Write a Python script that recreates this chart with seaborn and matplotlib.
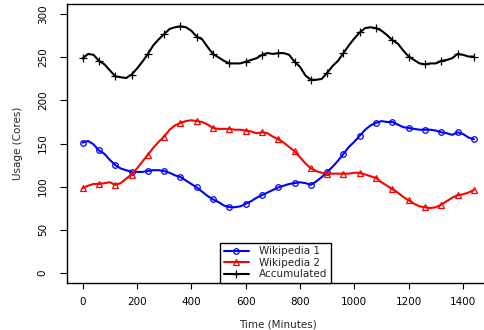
import numpy as np
import pandas as pd
import matplotlib
matplotlib.use("Agg")
import matplotlib.pyplot as plt
import seaborn as sns

# ---- data (20-minute steps) ----
time_min = list(range(0, 1441, 20))

wiki1 = [151, 153, 149, 142, 138, 131, 125, 121, 119, 117, 117, 117, 118, 119, 119,
         118, 116, 113, 111, 107, 103, 99, 94, 89, 85, 82, 78, 76, 76, 77,
         80, 83, 87, 90, 93, 96, 99, 101, 103, 104, 105, 104, 102, 106, 111,
         117, 123, 130, 138, 146, 152, 159, 166, 171, 174, 176, 175, 175, 172, 169,
         168, 167, 166, 166, 166, 165, 163, 162, 160, 163, 161, 157, 155]

wiki2 = [98, 101, 103, 103, 104, 105, 102, 104, 109, 114, 121, 129, 137, 145, 152,
         158, 166, 171, 174, 176, 177, 176, 175, 172, 168, 167, 167, 167, 166, 166,
         165, 164, 162, 163, 162, 158, 155, 151, 146, 141, 134, 127, 121, 118, 116,
         115, 115, 115, 115, 115, 116, 116, 114, 112, 110, 105, 101, 97, 93, 88,
         84, 80, 77, 76, 75, 76, 79, 83, 87, 90, 91, 93, 96]

accumulated = [249, 254, 253, 246, 242, 235, 228, 227, 226, 230, 237, 245, 254, 264, 271,
               277, 283, 285, 286, 285, 281, 274, 271, 262, 254, 250, 246, 243, 243, 243,
               245, 247, 249, 253, 255, 254, 255, 255, 253, 245, 239, 229, 224, 224, 225,
               232, 240, 246, 255, 264, 272, 279, 284, 285, 284, 281, 276, 270, 266, 258,
               251, 247, 243, 242, 243, 243, 246, 247, 249, 254, 253, 251, 251]

series_names = ["Wikipedia 1", "Wikipedia 2", "Accumulated"]
x_ticks = [0, 200, 400, 600, 800, 1000, 1200, 1400]
y_ticks = [0, 50, 100, 150, 200, 250, 300]

df = pd.DataFrame({"t": time_min, "Wikipedia 1": wiki1,
                   "Wikipedia 2": wiki2, "Accumulated": accumulated})

sns.set_style("ticks")
plt.rcParams["font.family"] = ["DejaVu Sans"]
plt.rcParams["font.size"] = 7.5

W, H = 485, 330
fig = plt.figure(figsize=(W / 100, H / 100), dpi=100)
ax = fig.add_axes([67 / W, 47 / H, (489.5 - 67) / W, (283 - 4) / H])

styles = {
    "Wikipedia 1": dict(color="#0000ff", marker="o", ms=4.0),
    "Wikipedia 2": dict(color="#ff0000", marker="^", ms=4.5),
    "Accumulated": dict(color="black", marker="+", ms=5.5),
}
for name in series_names:
    st = styles[name]
    sns.lineplot(data=df, x="t", y=name, ax=ax, label=name, lw=1.5,
                 color=st["color"], marker=st["marker"], markersize=st["ms"],
                 markevery=3, markerfacecolor="none",
                 markeredgecolor=st["color"], markeredgewidth=0.9,
                 dashes=False, linestyle="-")

ax.set_xlim(-57.6, 1497.6)
ax.set_ylim(-12, 312)
ax.set_xticks(x_ticks)
ax.set_yticks(y_ticks)
ax.set_xticklabels([str(v) for v in x_ticks])
ax.set_yticklabels([str(v) for v in y_ticks], rotation=90, va="center")
ax.tick_params(axis="x", direction="out", length=4.3, width=0.8, pad=5.5,
               colors="black", labelsize=7.5)
ax.tick_params(axis="y", direction="out", length=4.8, width=0.8, pad=9,
               colors="black", labelsize=7.5)
for s in ax.spines.values():
    s.set_visible(True)
    s.set_linewidth(1.0)
    s.set_color("black")

ax.set_xlabel("Time (Minutes)", fontsize=7.5, labelpad=9)
ax.set_ylabel("Usage (Cores)", fontsize=7.5, labelpad=11)

leg = ax.legend(loc="lower left", bbox_to_anchor=(220 / W, 47 / H),
                bbox_transform=fig.transFigure, borderaxespad=0,
                fancybox=False, framealpha=1, edgecolor="black",
                fontsize=7.5, handlelength=2.4, handletextpad=1.0,
                labelspacing=0.15, borderpad=0.35)
leg.get_frame().set_linewidth(1.0)

fig.savefig("out.png", dpi=100)
